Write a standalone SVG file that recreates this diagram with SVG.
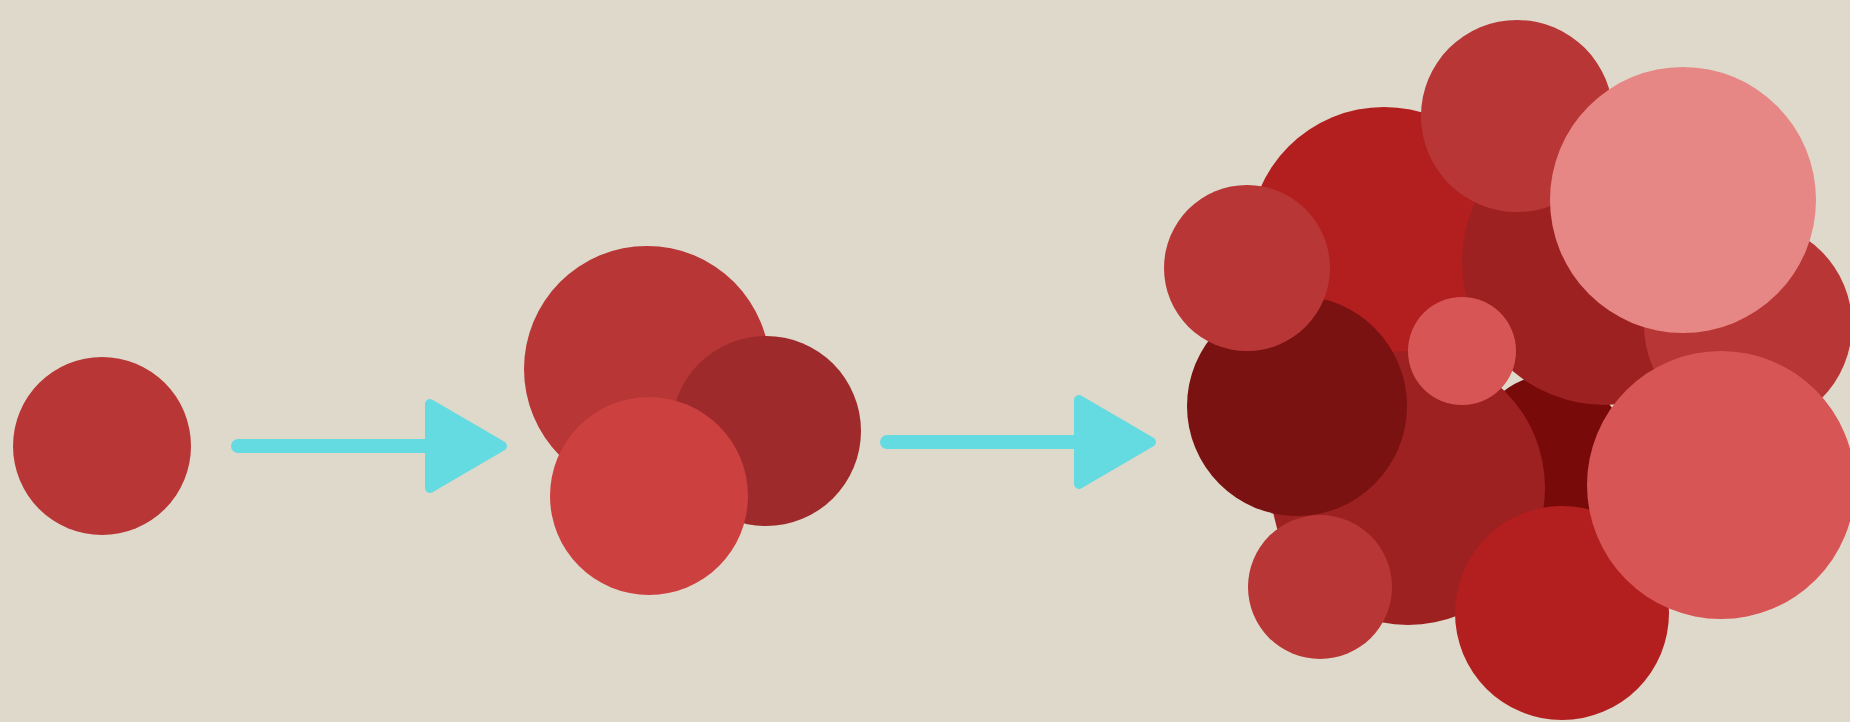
<svg xmlns="http://www.w3.org/2000/svg" width="1850" height="722" viewBox="0 0 1850 722">
<style>
.bg{fill:#dfd9cb}
.c1{fill:#b83736}
.c2{fill:#9e2a2b}
.c3{fill:#cc4040}
.r1{fill:#b31e1f}
.r2{fill:#9e2121}
.r3{fill:#7a1212}
.r4{fill:#780a0a}
.pk{fill:#e68785}
.sm{fill:#d75555}
.conn{stroke:#64dbe0;stroke-width:14;stroke-linecap:round;fill:none}
.head{fill:#64dbe0;stroke:#64dbe0;stroke-width:10;stroke-linejoin:round}
</style>
<defs>
<marker id="ah" markerUnits="userSpaceOnUse" viewBox="-10 -50 100 100" markerWidth="100" markerHeight="100" refX="0" refY="0" orient="auto" overflow="visible">
<path class="head" d="M5,-42 L77,0 L5,42 Z"/>
</marker>
</defs>
<rect class="bg" x="0" y="0" width="1850" height="722"/>
<g id="cell-single"><circle class="c1" cx="102" cy="446" r="89"/></g>
<g id="cluster-small">
<circle class="c1" cx="647" cy="369" r="123"/>
<circle class="c2" cx="766" cy="431" r="95"/>
<circle class="c3" cx="649" cy="496" r="99"/>
</g>
<g id="cluster-large">
<circle class="r4" cx="1550" cy="450" r="75"/>
<circle class="r1" cx="1384" cy="242" r="135"/>
<circle class="r2" cx="1605" cy="262" r="143"/>
<circle class="c1" cx="1517" cy="116" r="96"/>
<circle class="c1" cx="1748" cy="325" r="104"/>
<circle class="pk" cx="1683" cy="200" r="133"/>
<circle class="r2" cx="1408" cy="488" r="137"/>
<circle class="r3" cx="1297" cy="406" r="110"/>
<circle class="c1" cx="1247" cy="268" r="83"/>
<circle class="c1" cx="1320" cy="587" r="72"/>
<circle class="sm" cx="1462" cy="351" r="54"/>
<circle class="r1" cx="1562" cy="613" r="107"/>
<circle class="sm" cx="1721" cy="485" r="134"/>
</g>
<g id="connectors">
<path class="conn" d="M238,446 H425" marker-end="url(#ah)"/>
<path class="conn" d="M887,442 H1074" marker-end="url(#ah)"/>
</g>
</svg>
